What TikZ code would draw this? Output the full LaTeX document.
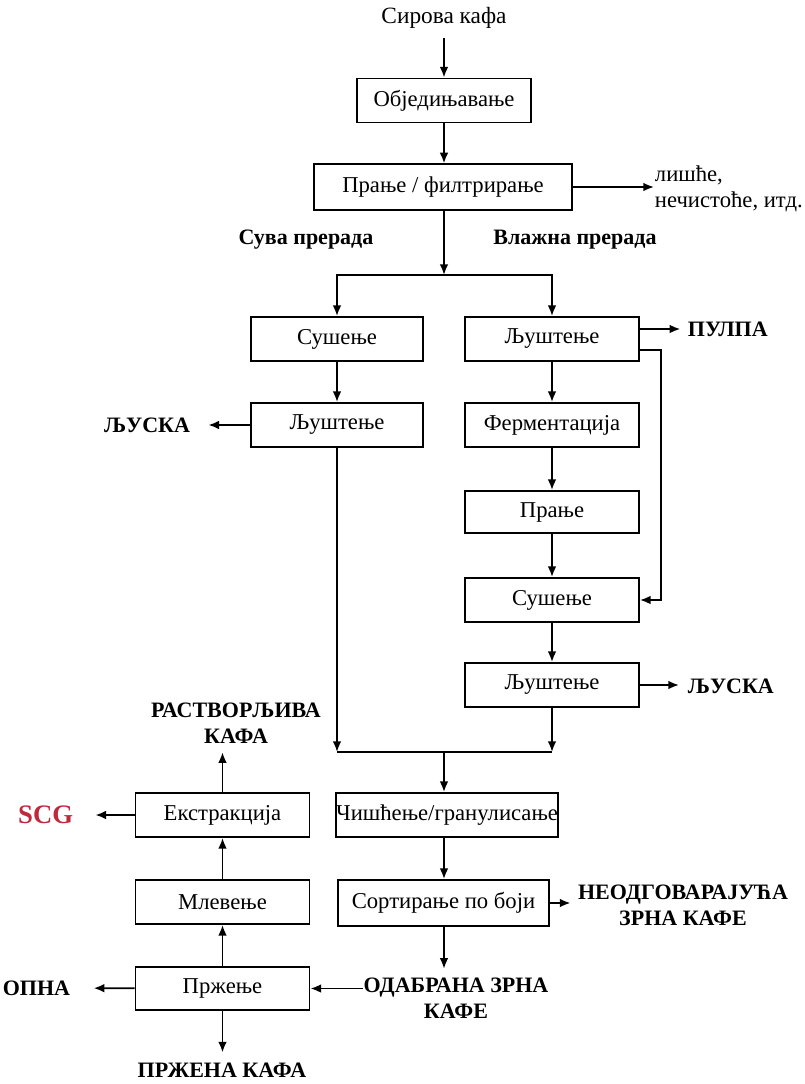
\documentclass[tikz,border=0pt]{standalone}
\usepackage{fontspec}
\setmainfont{Liberation Serif}
\usetikzlibrary{arrows.meta,calc}
\definecolor{scgred}{RGB}{192,40,60}
\begin{document}
\begin{tikzpicture}[x=0.75pt,y=-0.75pt,
  line width=1.4pt,
  proc/.style={draw,line width=1.4pt,minimum width=130.5pt,minimum height=33pt,inner sep=0pt,
    font=\fontsize{17}{19.5}\selectfont},
  lbl/.style={inner sep=0pt,font=\fontsize{17.5}{19.5}\selectfont},
  blbl/.style={inner sep=0pt,font=\fontsize{16.5}{19.5}\selectfont\bfseries},
  scgstyle/.style={inner sep=0pt,text=scgred,font=\fontsize{20}{24}\selectfont\bfseries},
  arr/.style={-{Latex[length=8pt,width=6.5pt]}}]
\useasboundingbox (0,0) rectangle (804,1084);
% nodes
\node[lbl] (raw) at (444,18) {Сирова кафа};
\node[proc] (ob) at (444,100.5) {Обједињавање};
\node[proc,minimum width=194pt,minimum height=34pt] (pr) at (443,187) {Прање / филтрирање};
\node[lbl,anchor=west,align=left,font=\fontsize{17}{19.5}\selectfont] (lis) at (654,189) {лишће,\\нечистоће, итд.};
\node[blbl] (suva) at (306,240) {Сува прерада};
\node[blbl] (vlaz) at (575,240) {Влажна прерада};
\coordinate (j1) at (444,275);
\node[proc,minimum width=129pt] (s1) at (337,339) {Сушење};
\node[proc,minimum width=129pt] (l1) at (337,425) {Љуштење};
\node[blbl,anchor=east] (lu1) at (191,425) {ЉУСКА};
\node[proc] (l2) at (552,339) {Љуштење};
\node[blbl,anchor=west] (pulpa) at (687,329) {ПУЛПА};
\node[proc] (fe) at (552,425) {Ферментација};
\node[proc,minimum height=31.5pt] (pa) at (552,512) {Прање};
\node[proc] (s2) at (552,600) {Сушење};
\node[proc] (l3) at (552,685) {Љуштење};
\node[blbl,anchor=west] (lu3) at (687,686) {ЉУСКА};
\coordinate (j2) at (444,752);
\node[proc,minimum width=165pt] (ci) at (447,815) {Чишћење/гранулисање};
\node[proc,minimum width=158pt,minimum height=34.5pt] (so) at (443.5,903) {Сортирање по боји};
\node[blbl,align=center] (neo) at (683,905) {НЕОДГОВАРАЈУЋА\\ЗРНА КАФЕ};
\node[blbl,align=center] (oda) at (456,998) {ОДАБРАНА ЗРНА\\КАФЕ};
\node[proc] (ek) at (222.5,815) {Екстракција};
\node[proc] (ml) at (222.5,902) {Млевење};
\node[proc,minimum height=32.5pt] (pz) at (222.5,988.5) {Пржење};
\node[blbl,align=center] (ras) at (236,723) {РАСТВОРЉИВА\\КАФА};
\node[scgstyle,anchor=east] (scg) at (74,815) {SCG};
\node[blbl,anchor=east] (opna) at (71,988) {ОПНА};
\node[blbl] (pk) at (222,1070) {ПРЖЕНА КАФА};
\coordinate (pp) at ($(l2.east)+(0,-10)$);
\coordinate (bp) at ($(l2.east)+(0,11)$);
% connectors
\draw[arr,shorten <=6pt] (raw) -- (ob);
\draw[arr] (ob.south) -- (ob.south |- pr.north);
\draw[arr] (pr.east) -- (pr.east -| lis.west);
\draw[arr] (pr.south -| j1) -- (j1);
\draw[arr] (j1) -| (s1.north);
\draw[arr] (j1) -| (l2.north);
\draw[arr] (s1) -- (l1);
\draw[arr,shorten >=13pt] (l1) -- (lu1);
\draw[arr,shorten >=5pt] (pp) -- (pp -| pulpa.west);
\draw[arr] (bp) -- ++(21,0) |- (s2.east);
\draw[arr] (l2) -- (fe);
\draw[arr] (fe) -- (pa);
\draw[arr] (pa) -- (s2);
\draw[arr] (s2) -- (l3);
\draw[arr,shorten >=6pt] (l3.east) -- (l3.east -| lu3.west);
\draw[arr] (l1) -- (l1 |- j2);
\draw[arr] (l3) -- (l3 |- j2);
\draw (l1 |- j2) -- (l3 |- j2);
\draw[arr] (j2) -- (j2 |- ci.north);
\draw[arr] (ci.south -| j2) -- (so.north -| j2);
\draw[arr,shorten >=5pt] (so.east) -- (so.east -| neo.west);
\draw[arr,shorten >=6pt] (so.south -| j2) -- (oda.north -| j2);
\draw[arr] (oda.west |- pz.east) -- (pz.east);
\draw[arr] (pz) -- (ml);
\draw[arr] (ml) -- (ek);
\draw[arr,shorten >=6pt] (ek.north) -- (ek.north |- ras.south);
\draw[arr,shorten >=16pt] (ek) -- (scg);
\draw[arr,shorten >=17pt] (pz) -- (opna);
\draw[arr,shorten >=7pt] (pz.south) -- (pz.south |- pk.north);
\end{tikzpicture}
\end{document}
